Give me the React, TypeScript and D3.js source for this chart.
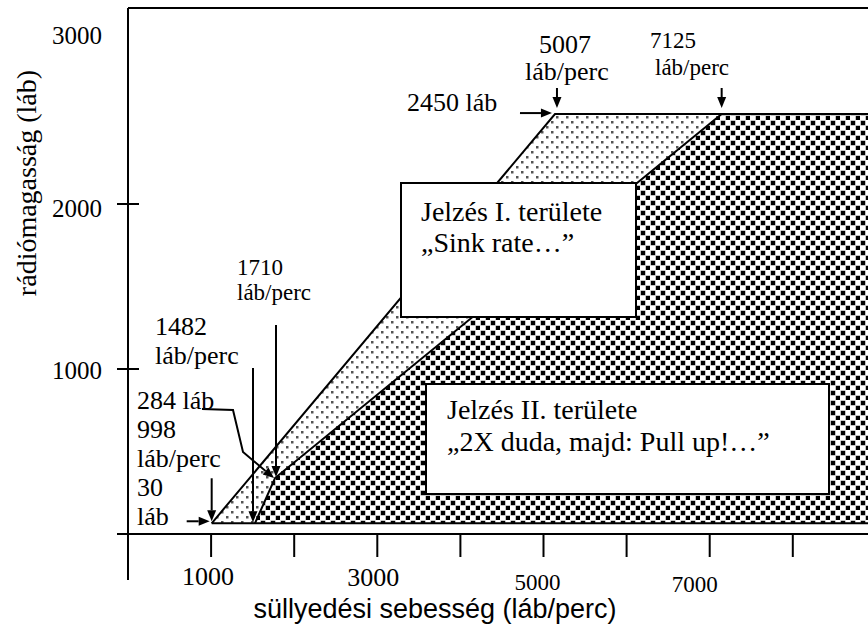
import React from "react";
import * as d3 from "d3";

// ---- data ----
const xTickValues = [1000, 2000, 3000, 4000, 5000, 6000, 7000, 8000];
const xLabelValues = [1000, 3000, 5000, 7000];
const yTickValues = [1000, 2000];
const yLabelValues = [1000, 2000, 3000];

// envelope boundaries as drawn (sink rate ft/min, radio altitude ft)
const floorAlt = 65;
const ceilingAlt = 2545;
const warnEdgeRate = [1007, 5138]; // left edge of mode I area (bottom, top)
const alertEdgeRate = [1528, 1769, 7144]; // left edge of mode II area
const alertEdgeAlt = [floorAlt, 339, ceilingAlt];
const rightRate = 9000;

const xTitle = "süllyedési sebesség (láb/perc)";
const yTitle = "rádiómagasság (láb)";
const box1Lines = ["Jelzés I. területe", "„Sink rate…”"];
const box2Lines = ["Jelzés II. területe", "„2X duda, majd: Pull up!…”"];
const leftNotes = ["284 láb", "998", "láb/perc", "30", "láb"];

const SERIF = "'Liberation Serif', 'Times New Roman', serif";
const SANS = "'Liberation Sans', Arial, sans-serif";

const W = 868;
const H = 632;

function Arrow({ pts, sw = 2 }: { pts: [number, number][]; sw?: number }) {
  const n = pts.length;
  const [x1, y1] = pts[n - 2];
  const [x2, y2] = pts[n - 1];
  const a = Math.atan2(y2 - y1, x2 - x1);
  const L = 11, hw = 4.5;
  const bx = x2 - L * Math.cos(a), by = y2 - L * Math.sin(a);
  const p1 = [bx + hw * Math.sin(a), by - hw * Math.cos(a)];
  const p2 = [bx - hw * Math.sin(a), by + hw * Math.cos(a)];
  const shaft = pts.slice(0, n - 1).concat([[bx, by]]);
  return (
    <g>
      <polyline points={shaft.map((p) => p.join(",")).join(" ")} fill="none" stroke="#000" strokeWidth={sw} />
      <polygon points={`${x2},${y2} ${p1.join(",")} ${p2.join(",")}`} fill="#000" />
    </g>
  );
}

export default function App() {
  const x = d3.scaleLinear().domain([0, 9000]).range([128, 128 + 83.1 * 9]);
  const y = d3.scaleLinear().domain([0, 3000]).range([534, 39]);

  const line = d3.line<[number, number]>().x((d) => x(d[0])).y((d) => y(d[1]));

  const lightPoly: [number, number][] = [
    [warnEdgeRate[0], floorAlt],
    [warnEdgeRate[1], ceilingAlt],
    [alertEdgeRate[2], ceilingAlt],
    [alertEdgeRate[1], alertEdgeAlt[1]],
    [alertEdgeRate[0], floorAlt],
  ];
  const darkPoly: [number, number][] = [
    [alertEdgeRate[0], floorAlt],
    [alertEdgeRate[1], alertEdgeAlt[1]],
    [alertEdgeRate[2], ceilingAlt],
    [rightRate, ceilingAlt],
    [rightRate, floorAlt],
  ];

  const vBL = [x(warnEdgeRate[0]), y(floorAlt)];
  const vTL = [x(warnEdgeRate[1]), y(ceilingAlt)];
  const vTR = [x(alertEdgeRate[2]), y(ceilingAlt)];
  const vKnee = [x(alertEdgeRate[1]), y(alertEdgeAlt[1])];
  const vB2 = [x(alertEdgeRate[0]), y(floorAlt)];

  const xLabelStyle = [
    { dx: -3, dy: 42, size: 26 },
    { dx: -4, dy: 43, size: 26 },
    { dx: -6, dy: 48, size: 23 },
    { dx: -15, dy: 50, size: 23 },
  ];
  const yLabelDy = [1, 4, -4];

  const axisY = y(0);

  return (
    <svg width={W} height={H} style={{ position: "absolute", left: 0, top: 0, background: "#fff" }}>
      <defs>
        <pattern id="lightPat" width="10" height="10" patternUnits="userSpaceOnUse">
          <rect width="10" height="10" fill="#fff" />
          <rect x="1" y="1" width="2.5" height="2.5" fill="#555" />
          <rect x="6" y="6" width="2.5" height="2.5" fill="#555" />
        </pattern>
        <pattern id="darkPat" width="10" height="10" patternUnits="userSpaceOnUse">
          <rect width="10" height="10" fill="#fff" />
          <rect x="0.5" y="0.5" width="5" height="5" fill="#888" />
          <rect x="1" y="1" width="4" height="4" fill="#000" />
          <rect x="5.5" y="5.5" width="5" height="5" fill="#888" />
          <rect x="6" y="6" width="4" height="4" fill="#000" />
        </pattern>
      </defs>
      <rect width={W} height={H} fill="#fff" />

      {/* regions */}
      <path d={line(lightPoly) + "Z"} fill="url(#lightPat)" />
      <path d={line(darkPoly) + "Z"} fill="url(#darkPat)" />
      {/* outlines */}
      <path d={line([[warnEdgeRate[0], floorAlt], [warnEdgeRate[1], ceilingAlt], [rightRate, ceilingAlt]]) || ""} fill="none" stroke="#000" strokeWidth={2} />
      <path d={line([[warnEdgeRate[0], floorAlt], [rightRate, floorAlt]]) || ""} fill="none" stroke="#000" strokeWidth={2} />
      <path d={line(alertEdgeRate.map((r, i) => [r, alertEdgeAlt[i]] as [number, number])) || ""} fill="none" stroke="#000" strokeWidth={2} />

      {/* axes */}
      <line x1={128} y1={8} x2={W} y2={8} stroke="#000" strokeWidth={2} />
      <line x1={128} y1={8} x2={128} y2={580} stroke="#000" strokeWidth={2} />
      <line x1={117} y1={axisY} x2={W} y2={axisY} stroke="#000" strokeWidth={2} />
      {xTickValues.map((v) => (
        <line key={v} x1={x(v)} x2={x(v)} y1={axisY} y2={axisY + 23} stroke="#000" strokeWidth={2} />
      ))}
      {yTickValues.map((v) => (
        <line key={v} x1={117} x2={139} y1={y(v)} y2={y(v)} stroke="#000" strokeWidth={2} />
      ))}
      {xLabelValues.map((v, i) => (
        <text key={v} x={x(v) + xLabelStyle[i].dx} y={axisY + xLabelStyle[i].dy} fontFamily={SERIF}
          fontSize={xLabelStyle[i].size} textAnchor="middle" dominantBaseline="central">{v}</text>
      ))}
      {yLabelValues.map((v, i) => (
        <text key={v} x={102} y={y(v) + yLabelDy[i]} fontFamily={SERIF} fontSize={25} textAnchor="end" dominantBaseline="central">{v}</text>
      ))}
      <text x={435} y={618} fontFamily={SANS} fontSize={27} textAnchor="middle">{xTitle}</text>
      <text transform={`translate(36,183) rotate(-90)`} fontFamily={SERIF} fontSize={28} textAnchor="middle">{yTitle}</text>

      {/* boxes */}
      <rect x={401} y={183} width={235} height={134} fill="#fff" stroke="#000" strokeWidth={2} />
      {box1Lines.map((t, i) => (
        <text key={i} x={421} y={221 + i * 31} fontFamily={SERIF} fontSize={28}>{t}</text>
      ))}
      <rect x={426} y={384} width={403} height={110} fill="#fff" stroke="#000" strokeWidth={2} />
      {box2Lines.map((t, i) => (
        <text key={i} x={447} y={419 + i * 32} fontFamily={SERIF} fontSize={28}>{t}</text>
      ))}

      {/* top annotations */}
      <text x={407} y={111} fontFamily={SERIF} fontSize={26}>2450 láb</text>
      <Arrow pts={[[vTL[0] - 35, vTL[1] - 1], [vTL[0] - 3, vTL[1] - 1]]} />
      <text x={vTL[0] + 10} y={53} fontFamily={SERIF} fontSize={26} textAnchor="middle">5007</text>
      <text x={vTL[0] + 12} y={80} fontFamily={SERIF} fontSize={26} textAnchor="middle">láb/perc</text>
      <Arrow pts={[[vTL[0] + 2, 88], [vTL[0] + 2, vTL[1] - 6]]} />
      <text x={650} y={48} fontFamily={SERIF} fontSize={23}>7125</text>
      <text x={655} y={75} fontFamily={SERIF} fontSize={23}>láb/perc</text>
      <Arrow pts={[[vTR[0], 88], [vTR[0], vTR[1] - 6]]} />

      {/* left annotations */}
      <text x={237} y={275} fontFamily={SERIF} fontSize={23}>1710</text>
      <text x={237} y={300} fontFamily={SERIF} fontSize={23}>láb/perc</text>
      <Arrow pts={[[vKnee[0] + 1, 325], [vKnee[0] + 1, vKnee[1] - 1]]} />
      <text x={155} y={335} fontFamily={SERIF} fontSize={26}>1482</text>
      <text x={155} y={364} fontFamily={SERIF} fontSize={26}>láb/perc</text>
      <Arrow pts={[[vB2[0] - 2, 368], [vB2[0] - 2, vB2[1] - 1]]} />
      {leftNotes.map((t, i) => (
        <text key={i} x={137} y={409 + i * 29} fontFamily={SERIF} fontSize={26}>{t}</text>
      ))}
      <Arrow pts={[[vKnee[0] - 73, vKnee[1] - 69], [vKnee[0] - 42, vKnee[1] - 68], [vKnee[0] - 32, vKnee[1] - 26], [vKnee[0] - 1, vKnee[1]]]} />
      <Arrow pts={[[vBL[0] - 25, vBL[1] - 2], [vBL[0] - 2, vBL[1] - 2]]} />
      <Arrow pts={[[vBL[0], vBL[1] - 45], [vBL[0], vBL[1] - 2]]} />
    </svg>
  );
}
